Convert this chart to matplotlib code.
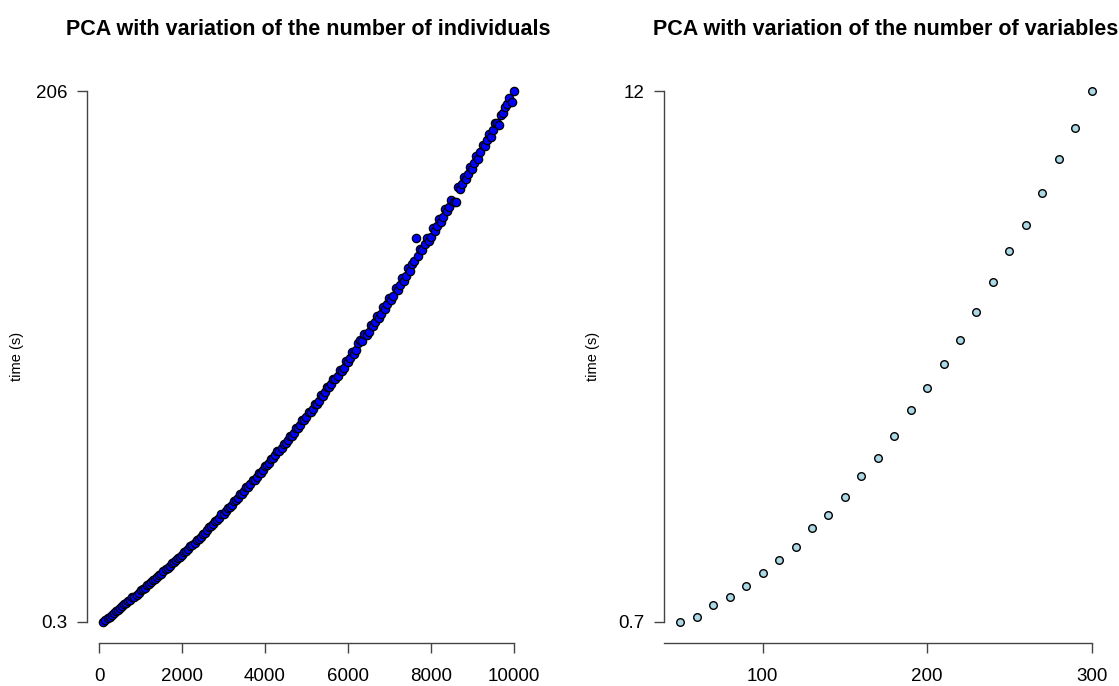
import numpy as np
import matplotlib
matplotlib.use("Agg")
import matplotlib.pyplot as plt

plt.rcParams['font.family'] = ['Liberation Sans', 'DejaVu Sans']

### 0. Data
# left panel: number of individuals vs time (s)
n_indiv = list(range(100, 10001, 50))
t_indiv = [
    0.3, 0.9, 1.6, 2.3, 3.1, 3.6, 4.5, 5.0, 5.6, 6.4,
    7.0, 7.5, 8.2, 8.8, 9.9, 10.1, 10.8, 11.5, 12.6, 12.9,
    13.5, 14.4, 14.9, 15.6, 16.5, 16.9, 17.6, 18.6, 19.0, 19.8,
    20.7, 21.2, 21.9, 22.9, 23.4, 24.1, 25.1, 25.6, 26.3, 27.4,
    27.9, 28.6, 29.7, 30.1, 31.0, 32.0, 32.5, 33.3, 34.4, 34.9,
    35.7, 36.9, 37.3, 38.2, 39.3, 39.8, 40.6, 41.9, 42.2, 43.1,
    44.4, 44.8, 45.6, 47.1, 47.4, 48.3, 49.8, 50.0, 50.9, 52.4,
    52.7, 53.6, 55.1, 55.4, 56.3, 57.9, 58.1, 59.0, 60.7, 60.9,
    61.9, 63.5, 63.7, 64.8, 66.4, 66.5, 67.6, 69.3, 69.5, 70.6,
    72.3, 72.5, 73.5, 75.4, 75.5, 76.6, 78.5, 78.6, 79.7, 81.8,
    81.7, 82.9, 84.8, 84.9, 85.8, 88.2, 88.0, 89.2, 91.3, 91.2,
    92.3, 94.6, 94.4, 95.6, 97.9, 97.7, 98.8, 101.3, 101.0, 102.4,
    104.8, 104.2, 105.7, 108.4, 109.6, 109.3, 111.9, 111.5, 112.6, 115.2,
    114.8, 116.5, 118.9, 118.1, 119.7, 122.3, 121.6, 123.4, 125.9, 124.9,
    126.8, 129.6, 128.9, 130.8, 133.6, 132.4, 134.3, 137.3, 136.4, 138.9,
    140.2, 149.0, 142.0, 144.9, 144.3, 146.8, 148.9, 148.1, 149.6, 152.8,
    151.9, 153.9, 156.6, 155.4, 157.4, 160.3, 159.6, 161.0, 163.9, 163.0,
    163.2, 168.9, 168.1, 170.2, 172.9, 171.8, 174.0, 176.8, 175.9, 178.1,
    181.0, 179.8, 182.3, 185.2, 184.6, 186.9, 189.6, 188.4, 191.0, 193.5,
    193.8, 193.0, 196.7, 197.4, 199.8, 201.0, 203.5, 202.0, 206.0,
]

# right panel: number of variables vs time (s)
n_var = list(range(50, 301, 10))
t_var = [0.70, 0.81, 1.05, 1.22, 1.47, 1.73, 2.01, 2.30, 2.70, 2.98,
         3.36, 3.81, 4.19, 4.66, 5.20, 5.68, 6.19, 6.70, 7.29, 7.94,
         8.59, 9.16, 9.83, 10.56, 11.22, 12.0]

titles = ['PCA with variation of the number of individuals',
          'PCA with variation of the number of variables']
xticks_indiv = [0, 2000, 4000, 6000, 8000, 10000]
xticks_var = [100, 200, 300]
yticklab_indiv = ['0.3', '206']
yticklab_var = ['0.7', '12']

### 1. Figure
fig = plt.figure(figsize=(11.19, 6.86), dpi=100)
W, H = 1119, 686
ax1 = fig.add_axes([87 / W, 1 - 643 / H, 443 / W, 573 / H])
ax2 = fig.add_axes([664 / W, 1 - 643 / H, 444 / W, 573 / H])

axcol = '#444444'

def style(ax, x, y, xt, ytl, xbounds, title, ylab_x):
    pad_x = 0.04 * (max(x) - min(x))
    pad_y = 0.04 * (max(y) - min(y))
    ax.set_xlim(min(x) - pad_x, max(x) + pad_x)
    ax.set_ylim(min(y) - pad_y, max(y) + pad_y)
    for s in ['top', 'right']:
        ax.spines[s].set_visible(False)
    ax.spines['left'].set_bounds(min(y), max(y))
    ax.spines['bottom'].set_bounds(*xbounds)
    for s in ['left', 'bottom']:
        ax.spines[s].set_color(axcol)
        ax.spines[s].set_linewidth(1)
    ax.set_xticks(xt)
    ax.set_xticklabels([str(v) for v in xt])
    ax.set_yticks([min(y), max(y)])
    ax.set_yticklabels(ytl)
    ax.tick_params(axis='both', length=7, width=1, color=axcol,
                   labelsize=13.5, labelcolor='black')
    ax.tick_params(axis='x', pad=11)
    ax.tick_params(axis='y', pad=7)
    ax.set_ylabel('time (s)', fontsize=10.5, va='center')
    ax.yaxis.set_label_coords(ylab_x, 0.5)
    ax.set_title(title, fontsize=15.5, fontweight='bold', pad=25)

### 2. Plots
ax1.scatter(n_indiv, t_indiv, s=36, c='blue', edgecolors='black',
            linewidths=0.9, zorder=3)
style(ax1, n_indiv, t_indiv, xticks_indiv, yticklab_indiv, (0, 10000),
      titles[0], (17 - 87) / 443)

ax2.scatter(n_var, t_var, s=30, c='lightblue', edgecolors='black',
            linewidths=1.0, zorder=3)
style(ax2, n_var, t_var, xticks_var, yticklab_var, (40, 300),
      titles[1], (593 - 664) / 444)

fig.savefig('out.png', dpi=100)
